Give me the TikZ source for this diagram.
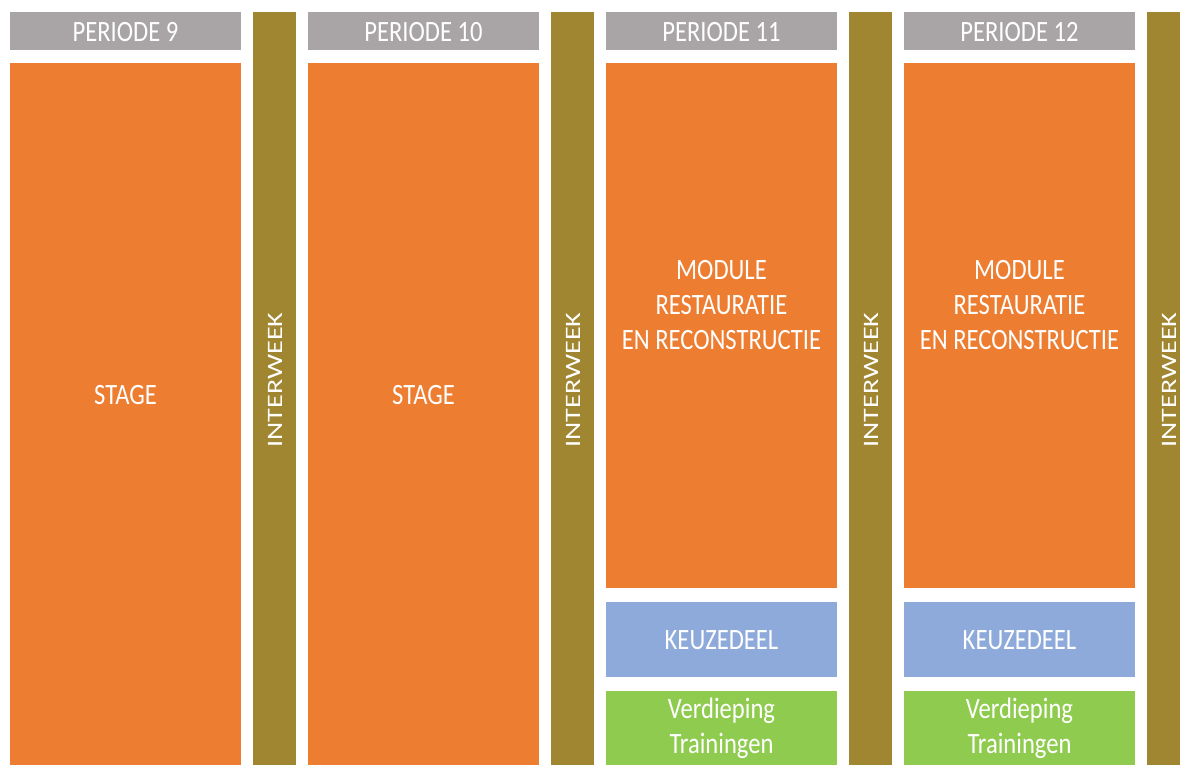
\documentclass[tikz,border=0pt]{standalone}
\usepackage{fontspec}
\usepackage{graphicx}
\setmainfont{Carlito}
\definecolor{kopgrijs}{HTML}{A9A5A6}
\definecolor{oranje}{HTML}{ED7D31}
\definecolor{olijf}{HTML}{A08631}
\definecolor{blauw}{HTML}{8EAADB}
\definecolor{groen}{HTML}{8FCB4F}
\newcommand{\hoog}[1]{\scalebox{1}[1.2]{#1}}
\newcommand{\lang}[1]{\rotatebox{90}{\scalebox{1.28}[1]{#1}}}
\tikzset{
  tekst/.style={text=white, inner sep=0pt, align=center, font=\fontsize{24.6}{35}\selectfont},
  weektekst/.style={text=white, inner sep=0pt, font=\fontsize{22}{26}\selectfont}
}
\begin{document}
\begin{tikzpicture}[x=1pt,y=-1pt]
\useasboundingbox (0,0) rectangle (1180,765);
\clip (0,0) rectangle (1180,765);
% kopjes
\fill[kopgrijs] (10,12) rectangle (241,50);
\fill[kopgrijs] (308,12) rectangle (539,50);
\fill[kopgrijs] (606,12) rectangle (837,50);
\fill[kopgrijs] (904,12) rectangle (1135,50);
\node[tekst] (p9) at (125.5,32) {\hoog{PERIODE 9}};
\node[tekst] (p10) at (423.5,32) {\hoog{PERIODE 10}};
\node[tekst] (p11) at (721.5,32) {\hoog{PERIODE 11}};
\node[tekst] (p12) at (1019.5,32) {\hoog{PERIODE 12}};
% stage
\fill[oranje] (10,63) rectangle (241,770);
\fill[oranje] (308,63) rectangle (539,770);
\node[tekst] (stage9) at (125.5,395) {\hoog{STAGE}};
\node[tekst] (stage10) at (423.5,395) {\hoog{STAGE}};
% module
\fill[oranje] (606,63) rectangle (837,588);
\fill[oranje] (904,63) rectangle (1135,588);
\node[tekst] (mod11) at (721.5,305) {\hoog{MODULE}\\\hoog{RESTAURATIE}\\\hoog{EN RECONSTRUCTIE}};
\node[tekst] (mod12) at (1019.5,305) {\hoog{MODULE}\\\hoog{RESTAURATIE}\\\hoog{EN RECONSTRUCTIE}};
% keuzedeel
\fill[blauw] (606,602) rectangle (837,677);
\fill[blauw] (904,602) rectangle (1135,677);
\node[tekst] (keuze11) at (721.5,640) {\hoog{KEUZEDEEL}};
\node[tekst] (keuze12) at (1019.5,640) {\hoog{KEUZEDEEL}};
% verdieping
\fill[groen] (606,691) rectangle (837,770);
\fill[groen] (904,691) rectangle (1135,770);
\node[tekst] (verd11) at (721.5,728) {\hoog{Verdieping}\\\hoog{Trainingen}};
\node[tekst] (verd12) at (1019.5,728) {\hoog{Verdieping}\\\hoog{Trainingen}};
% interweken
\fill[olijf] (253,12) rectangle (296,770);
\fill[olijf] (551,12) rectangle (594,770);
\fill[olijf] (849,12) rectangle (892,770);
\fill[olijf] (1147,12) rectangle (1190,770);
\node[weektekst] (iw9) at (275,380) {\lang{INTERWEEK}};
\node[weektekst] (iw10) at (573,380) {\lang{INTERWEEK}};
\node[weektekst] (iw11) at (871,380) {\lang{INTERWEEK}};
\node[weektekst] (iw12) at (1169,380) {\lang{INTERWEEK}};
\end{tikzpicture}
\end{document}
